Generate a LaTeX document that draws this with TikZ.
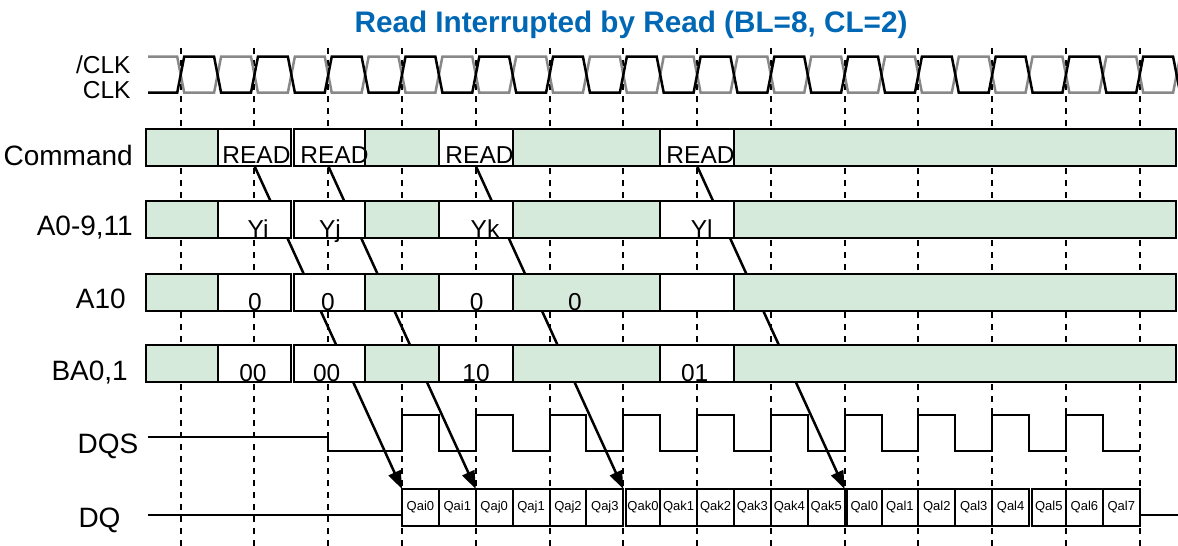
\documentclass[tikz,border=0pt]{standalone}
\usepackage{fontspec}
\setmainfont{Liberation Sans}
\usetikzlibrary{arrows.meta}
\definecolor{bgreen}{RGB}{214,234,220}
\definecolor{ttlblue}{RGB}{0,103,180}
\definecolor{clkgrey}{RGB}{136,136,136}
\newcommand\sigrow[2]{%
  \foreach \xa/\xb/\fc [count=\ci] in {145.7/217.6/bgreen,217.6/291.4/white,294/365.1/white,365.1/438.9/bgreen,438.9/512.7/white,512.7/660.2/bgreen,660.2/734/white,734/1176/bgreen}{%
    \pgfmathsetmacro\bw{\xb-\xa}%
    \node[sbox,fill=\fc,minimum width=\bw pt,anchor=north west] (#2\ci) at (\xa,#1) {};
  }}
\begin{document}
\begin{tikzpicture}[x=1pt,y=-1pt,
  sbox/.style={draw,line width=2pt,minimum height=37pt,inner sep=0pt,outer sep=0pt},
  dqcell/.style={draw,line width=2pt,minimum height=37pt,inner sep=0pt,outer sep=0pt,font=\fontsize{13}{15}\selectfont},
  lbl/.style={font=\fontsize{28}{31}\selectfont,inner sep=0pt},
  clbl/.style={font=\fontsize{24.5}{27}\selectfont,inner sep=0pt,anchor=base east},
  btxt/.style={font=\fontsize{24.5}{27}\selectfont,inner sep=0pt,anchor=base},
  ttl/.style={font=\fontsize{29.7}{33}\selectfont\bfseries,text=ttlblue,inner sep=0pt,anchor=base},
  dline/.style={line width=2pt,dash pattern=on 6pt off 6pt},
  clkb/.style={line width=2.5pt,black},
  clkg/.style={line width=2.5pt,clkgrey},
  sig/.style={line width=2pt},
  arr/.style={line width=2.5pt,-{Triangle[length=18pt,width=13pt]}}]
\useasboundingbox (0,0) rectangle (1178,546);
\clip (0,0) rectangle (1178,546);
% title
\node[ttl] (title) at (631,32.5) {Read Interrupted by Read (BL=8, CL=2)};
% dashed clock lines
\foreach \k in {0,...,13}{
  \coordinate (ct\k) at ({180.7+73.77*\k},48);
  \coordinate (cb\k) at ({180.7+73.77*\k},546);
  \draw[dline] (ct\k) -- (cb\k);
}
% clocks
\draw[clkg] (148,56.7) \foreach \k in {0,...,13}{ -- ({180.7+73.77*\k-3.5},56.7) -- ({180.7+73.77*\k+3.5},92.7) -- ({217.585+73.77*\k-3.5},92.7) -- ({217.585+73.77*\k+3.5},56.7)};
\draw[clkb] (148,92.7) \foreach \k in {0,...,13}{ -- ({180.7+73.77*\k-3.5},92.7) -- ({180.7+73.77*\k+3.5},56.7) -- ({217.585+73.77*\k-3.5},56.7) -- ({217.585+73.77*\k+3.5},92.7)};
% labels
\node[clbl] (lnclk) at (130.7,73.5) {/CLK};
\node[clbl] (lclk) at (130.7,98.5) {CLK};
\node[lbl,anchor=base east] (lcmd) at (133,165) {Command};
\node[lbl,anchor=base east] (laddr) at (133,235.5) {A0-9,11};
\node[lbl,anchor=base east] (la10) at (126,308.5) {A10};
\node[lbl,anchor=base east] (lba) at (128,380.5) {BA0,1};
\node[lbl,anchor=base] (ldqs) at (108,453) {DQS};
\node[lbl,anchor=base] (ldq) at (99.5,527.5) {DQ};
% DQ cells
\foreach \lab [count=\ci from 0] in {Qai0,Qai1,Qaj0,Qaj1,Qaj2,Qaj3,Qak0,Qak1,Qak2,Qak3,Qak4,Qak5,Qal0,Qal1,Qal2,Qal3,Qal4,Qal5,Qal6,Qal7}{
  \pgfmathsetmacro\dl{(\ci==6||\ci==12||\ci==17)*2.5}
  \pgfmathsetmacro\cx{402.01+36.885*\ci+\dl}
  \pgfmathsetmacro\cw{36.885-\dl}
  \node[dqcell,fill=white,minimum width=\cw pt,anchor=north west] (dq\ci) at (\cx,489) {\lab};
}
% arrows (behind rows)
\coordinate (rd1) at (254.47,166);
\coordinate (rd2) at (328.24,166);
\coordinate (rd3) at (475.78,166);
\coordinate (rd4) at (697.09,166);
\draw[arr] (rd1) -- (dq0.north west);
\draw[arr] (rd2) -- (dq2.north west);
\draw[arr] (rd3) -- (dq5.north east);
\draw[arr] (rd4) -- (dq11.north east);
% signal rows
\sigrow{129}{cmd}
\sigrow{201.3}{adr}
\sigrow{273.7}{aten}
\sigrow{345}{bank}
% row texts
\node[btxt] (tr1) at (256.5,163.5) {READ};
\node[btxt] (tr2) at (334.5,163.5) {READ};
\node[btxt] (tr3) at (479.5,163.5) {READ};
\node[btxt] (tr4) at (700.5,163.5) {READ};
\node[btxt] (ty1) at (258,237) {Yi};
\node[btxt] (ty2) at (330,237) {Yj};
\node[btxt] (ty3) at (485,237) {Yk};
\node[btxt] (ty4) at (701.7,237) {Yl};
\node[btxt] (tz1) at (255,310.5) {0};
\node[btxt] (tz2) at (328,310.5) {0};
\node[btxt] (tz3) at (476.7,310.5) {0};
\node[btxt] (tz4) at (575,310.5) {0};
\node[btxt] (tb1) at (253,381) {00};
\node[btxt] (tb2) at (326.7,381) {00};
\node[btxt] (tb3) at (476,381) {10};
\node[btxt] (tb4) at (694.7,381) {01};
% DQS
\coordinate (dqsL) at (148,437);
\draw[sig] (dqsL) -- (328.24,437) -- (328.24,451) \foreach \k in {3,...,12}{ -- ({180.7+73.77*\k},451) -- ({180.7+73.77*\k},415) -- ({217.585+73.77*\k},415) -- ({217.585+73.77*\k},451)} -- (1139.71,451);
% DQ lines
\coordinate (dqL) at (148,514.5);
\coordinate (dqR) at (1178,514.5);
\draw[sig] (dqL) -- (dqL -| dq0.west);
\draw[sig] (dq19.east |- dqR) -- (dqR);
\end{tikzpicture}
\end{document}
